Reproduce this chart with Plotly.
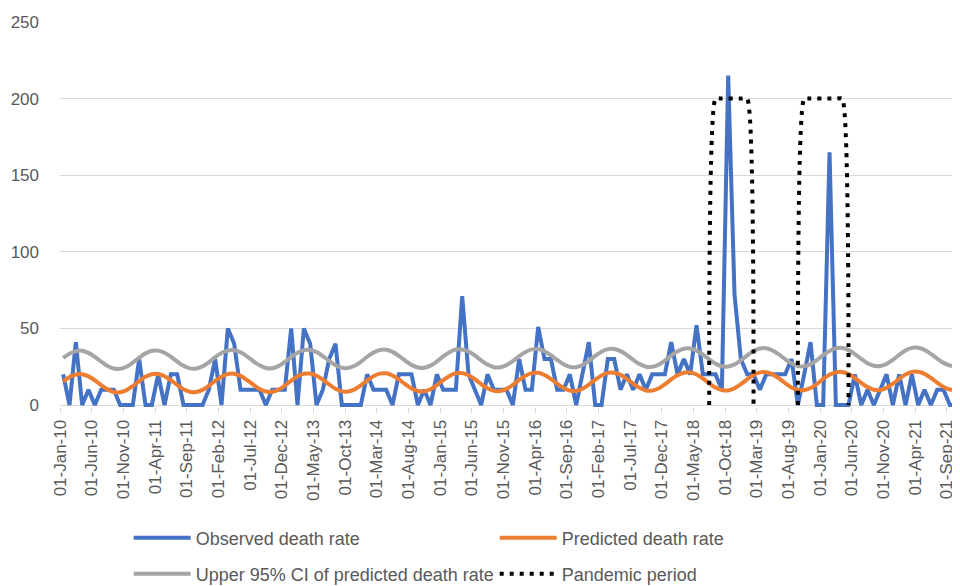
import pandas as pd
import plotly.graph_objects as go

# ---- categories (monthly, Jan-2010 .. Dec-2021) ----
month_starts = pd.date_range("2010-01-01", periods=144, freq="MS")
month_labels = [d.strftime("%d-%b-%y") for d in month_starts]

# ---- series values ----
observed = [
    20, 0, 41, 0, 10, 0, 10, 10, 10, 0, 0, 0,          # 2010
    30, 0, 0, 20, 0, 20, 20, 0, 0, 0, 0, 10,            # 2011
    30, 0, 50, 40, 10, 10, 10, 10, 0, 10, 10, 10,       # 2012
    50, 0, 50, 40, 0, 10, 30, 40, 0, 0, 0, 0,           # 2013
    20, 10, 10, 10, 0, 20, 20, 20, 0, 10, 0, 20,        # 2014
    10, 10, 10, 71, 20, 10, 0, 20, 10, 10, 10, 0,       # 2015
    30, 10, 10, 51, 30, 30, 10, 10, 20, 0, 20, 41,      # 2016
    0, 0, 30, 30, 10, 20, 10, 20, 10, 20, 20, 20,       # 2017
    41, 20, 30, 20, 52, 20, 20, 20, 10, 215, 72, 30,    # 2018
    20, 20, 10, 20, 20, 20, 20, 30, 0, 20, 41, 0,       # 2019
    0, 165, 0, 0, 0, 20, 0, 10, 0, 10, 20, 0,           # 2020
    20, 0, 20, 0, 10, 0, 10, 10, 0, 0, 10, 10,          # 2021
]

predicted = [
    15.5, 18.2, 19.9, 20.1, 18.7, 16.1, 13.0, 10.2, 8.5, 8.3, 9.7, 12.4,
    15.6, 18.4, 20.1, 20.2, 18.8, 16.2, 13.1, 10.3, 8.6, 8.5, 9.9, 12.5,
    15.8, 18.5, 20.2, 20.4, 19.0, 16.4, 13.3, 10.5, 8.8, 8.6, 10.0, 12.7,
    15.9, 18.7, 20.4, 20.5, 19.1, 16.5, 13.4, 10.6, 8.9, 8.8, 10.2, 12.8,
    16.1, 18.8, 20.5, 20.7, 19.3, 16.7, 13.6, 10.8, 9.1, 8.9, 10.3, 13.0,
    16.2, 19.0, 20.7, 20.8, 19.4, 16.8, 13.7, 10.9, 9.2, 9.1, 10.5, 13.1,
    16.4, 19.1, 20.8, 21.0, 19.6, 17.0, 13.9, 11.1, 9.4, 9.2, 10.6, 13.3,
    16.5, 19.3, 21.0, 21.1, 19.7, 17.1, 14.0, 11.2, 9.5, 9.4, 10.8, 13.4,
    16.7, 19.4, 21.1, 21.3, 19.9, 17.3, 14.2, 11.4, 9.7, 9.5, 10.9, 13.6,
    16.8, 19.6, 21.3, 21.4, 20.0, 17.4, 14.3, 11.5, 9.8, 9.7, 11.1, 13.7,
    17.0, 19.7, 21.4, 21.6, 20.2, 17.6, 14.5, 11.7, 10.0, 9.8, 11.2, 13.9,
    17.1, 19.9, 21.6, 21.7, 20.3, 17.7, 14.6, 11.8, 10.1, 10.0, 11.4, 14.0,
]

upper_ci = [
    30.8, 33.5, 35.2, 35.4, 34.0, 31.4, 28.3, 25.5, 23.8, 23.6, 25.0, 27.7,
    30.9, 33.7, 35.4, 35.5, 34.1, 31.5, 28.4, 25.6, 23.9, 23.8, 25.2, 27.8,
    31.2, 33.9, 35.6, 35.8, 34.4, 31.8, 28.7, 25.9, 24.2, 24.0, 25.4, 28.1,
    31.3, 34.1, 35.8, 35.9, 34.5, 31.9, 28.8, 26.0, 24.3, 24.2, 25.6, 28.2,
    31.5, 34.2, 35.9, 36.1, 34.7, 32.1, 29.0, 26.2, 24.5, 24.3, 25.7, 28.4,
    31.7, 34.5, 36.2, 36.3, 34.9, 32.3, 29.2, 26.4, 24.7, 24.6, 26.0, 28.6,
    31.9, 34.6, 36.3, 36.5, 35.1, 32.5, 29.4, 26.6, 24.9, 24.7, 26.1, 28.8,
    32.0, 34.8, 36.5, 36.6, 35.2, 32.6, 29.5, 26.7, 25.0, 24.9, 26.3, 28.9,
    32.3, 35.0, 36.7, 36.9, 35.5, 32.9, 29.8, 27.0, 25.3, 25.1, 26.5, 29.2,
    32.4, 35.2, 36.9, 37.0, 35.6, 33.0, 29.9, 27.1, 25.4, 25.3, 26.7, 29.3,
    32.6, 35.3, 37.0, 37.2, 35.8, 33.2, 30.1, 27.3, 25.6, 25.4, 26.8, 29.5,
    32.8, 35.6, 37.3, 37.4, 36.0, 33.4, 30.3, 27.5, 25.8, 25.7, 27.1, 29.7,
]

# pandemic marker: 0 / 200 around the two pandemic waves, blank elsewhere
N = None
pandemic = (
    [N] * 102
    + [0, 200, 200, 200, 200, 200, 200, 0]
    + [N] * 6
    + [0, 200, 200, 200, 200, 200, 200, 200, 0]
    + [N] * 19
)

series_names = [
    "Observed death rate",
    "Predicted death rate",
    "Upper 95% CI of predicted death rate",
    "Pandemic period",
]
y_ticks = [0, 50, 100, 150, 200, 250]

x_pos = list(range(len(month_labels)))
tick_pos = [i - 0.5 for i in x_pos[::5]]
tick_txt = month_labels[::5]

FONT = "Liberation Sans"
TXT = "#595959"
GRID = "#D9D9D9"

# the page adds an 8px body margin, so the figure is 8px smaller each way
W, H = 952, 578

fig = go.Figure()
fig.add_trace(go.Scatter(x=x_pos, y=observed, name=series_names[0], mode="lines",
                         line=dict(color="#4472C4", width=4), legend="legend"))
fig.add_trace(go.Scatter(x=x_pos, y=predicted, name=series_names[1], mode="lines",
                         line=dict(color="#ED7D31", width=4, shape="spline"), legend="legend"))
fig.add_trace(go.Scatter(x=x_pos, y=upper_ci, name=series_names[2], mode="lines",
                         line=dict(color="#A5A5A5", width=4, shape="spline"), legend="legend2"))
fig.add_trace(go.Scatter(x=x_pos, y=pandemic, name=series_names[3], mode="lines",
                         connectgaps=False,
                         line=dict(color="#000000", width=4, dash="4px,6px",
                                   shape="spline", smoothing=0.5),
                         legend="legend2"))

leg_common = dict(orientation="h", xref="container", yref="container",
                  x=120.7 / W, xanchor="left", yanchor="middle",
                  entrywidth=294, entrywidthmode="pixels", itemwidth=57,
                  font=dict(family=FONT, size=18, color=TXT),
                  bgcolor="rgba(0,0,0,0)")

fig.update_layout(
    width=W, height=H,
    margin=dict(l=52, r=0, t=14, b=179, autoexpand=False),
    paper_bgcolor="white", plot_bgcolor="white",
    font=dict(family=FONT, size=17, color=TXT),
    showlegend=True,
    legend=dict(leg_common, y=48 / H),
    legend2=dict(leg_common, y=12 / H),
)

fig.update_xaxes(
    range=[-0.5, 141.6], tickmode="array", tickvals=tick_pos, ticktext=tick_txt,
    tickangle=-90, ticks="outside", ticklen=5, tickcolor=GRID, tickwidth=1,
    showgrid=False, zeroline=False, showline=False, automargin=False,
    tickfont=dict(family=FONT, size=17, color=TXT),
)
fig.update_yaxes(
    range=[-1.3, 250], tickmode="array", tickvals=y_ticks,
    showgrid=True, gridcolor=GRID, gridwidth=1, zeroline=False, showline=False,
    ticks="", ticklabelstandoff=20, automargin=False,
    tickfont=dict(family=FONT, size=17, color=TXT),
)

fig.write_html("out.html")
